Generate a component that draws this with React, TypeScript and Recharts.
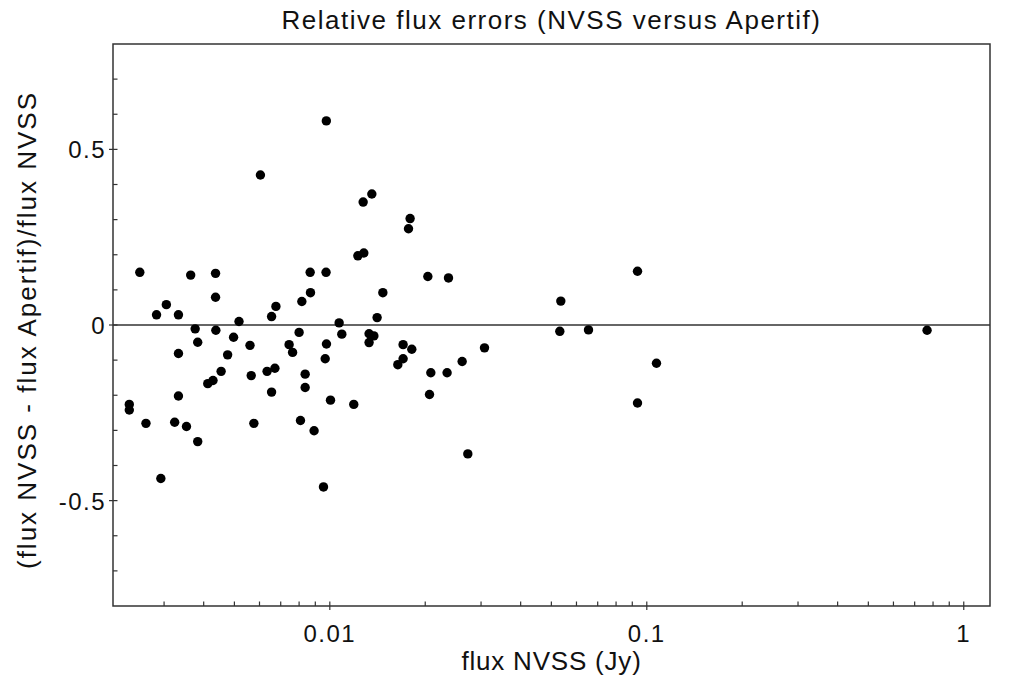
import { ReferenceArea, ReferenceLine, Scatter, ScatterChart, XAxis, YAxis } from "recharts";

// NVSS flux (Jy) and relative error
const fluxNvss = [
  0.002515, 0.00284, 0.00305, 0.00333, 0.00364, 0.00436, 0.00436, 0.00333, 0.00376, 0.00437,
  0.00517, 0.00383, 0.00497, 0.00476, 0.0056, 0.00454, 0.00428, 0.00412, 0.00565, 0.00333,
  0.00233, 0.00233, 0.00263, 0.00324, 0.00353, 0.00383, 0.00576, 0.00293, 0.00604, 0.00655,
  0.00676, 0.00634, 0.00671, 0.00655, 0.00744, 0.00763, 0.008, 0.00816, 0.00869, 0.00867,
  0.00973, 0.00836, 0.00836, 0.00808, 0.00892, 0.00976, 0.00967, 0.01005, 0.0107, 0.01091,
  0.0119, 0.00975, 0.01274, 0.01357, 0.01792, 0.01771, 0.01226, 0.0128, 0.02038, 0.02368,
  0.0147, 0.0141, 0.0133, 0.01377, 0.0133, 0.01703, 0.01814, 0.01703, 0.01639, 0.02083,
  0.02344, 0.02615, 0.03076, 0.02063, 0.02725, 0.00955, 0.05355, 0.05316, 0.06548, 0.09348,
  0.1073, 0.09348, 0.766,
];

const relError = [
  0.15, 0.029, 0.058, 0.029, 0.142, 0.147, 0.079, -0.081, -0.011, -0.015,
  0.01, -0.049, -0.035, -0.085, -0.058, -0.132, -0.158, -0.167, -0.144, -0.202,
  -0.226, -0.242, -0.28, -0.277, -0.289, -0.332, -0.28, -0.437, 0.427, 0.024,
  0.053, -0.132, -0.123, -0.191, -0.056, -0.078, -0.021, 0.067, 0.092, 0.15,
  0.15, -0.14, -0.178, -0.272, -0.301, -0.054, -0.096, -0.214, 0.006, -0.026,
  -0.226, 0.581, 0.35, 0.373, 0.303, 0.274, 0.197, 0.205, 0.138, 0.134,
  0.092, 0.021, -0.025, -0.031, -0.05, -0.056, -0.069, -0.096, -0.113, -0.136,
  -0.136, -0.104, -0.065, -0.198, -0.367, -0.461, 0.068, -0.018, -0.014, 0.153,
  -0.109, -0.222, -0.015,
];

const xMajorTicks = [0.01, 0.1, 1];
const xMinorTicks = [
  0.003, 0.004, 0.005, 0.006, 0.007, 0.008, 0.009,
  0.02, 0.03, 0.04, 0.05, 0.06, 0.07, 0.08, 0.09,
  0.2, 0.3, 0.4, 0.5, 0.6, 0.7, 0.8, 0.9,
];
const xTickLabels = ["0.01", "0.1", "1"];
const yMajorTicks = [-0.5, 0, 0.5];
const yMinorTicks = [-0.7, -0.6, -0.4, -0.3, -0.2, -0.1, 0.1, 0.2, 0.3, 0.4, 0.6, 0.7];
const yTickLabels = ["-0.5", "0", "0.5"];

const xDomain = [0.00207, 1.21];
const yDomain = [-0.8, 0.8];

const points = fluxNvss.map((flux, i) => ({ flux, err: relError[i] }));

const ink = "#333";
const font = "'Liberation Sans', Arial, sans-serif";

function XTick(props: any) {
  const { x, y, payload } = props;
  const idx = xMajorTicks.indexOf(payload.value);
  if (idx < 0) {
    return <line x1={x} x2={x} y1={y} y2={y - 4.5} stroke={ink} strokeWidth={1.2} />;
  }
  return (
    <g>
      <line x1={x} x2={x} y1={y - 4.5} y2={y + 4} stroke={ink} strokeWidth={1.2} />
      <text x={x} y={y + 36} textAnchor="middle" fontSize={24} fill="#111" fontFamily={font} letterSpacing={1.5}>
        {xTickLabels[idx]}
      </text>
    </g>
  );
}

function YTick(props: any) {
  const { x, y, payload } = props;
  const idx = yMajorTicks.indexOf(payload.value);
  if (idx < 0) {
    return <line x1={x} x2={x + 4.5} y1={y} y2={y} stroke={ink} strokeWidth={1.2} />;
  }
  return (
    <g>
      <line x1={x - 4} x2={x + 4.5} y1={y} y2={y} stroke={ink} strokeWidth={1.2} />
      <text x={x - 7} y={y + 9} textAnchor="end" fontSize={24} fill="#111" fontFamily={font} letterSpacing={1.5}>
        {yTickLabels[idx]}
      </text>
    </g>
  );
}

export default function App() {
  return (
    <div style={{ position: "absolute", left: 0, top: 0, width: 1024, height: 694, background: "#fff", fontFamily: font }}>
      <div style={{ position: "absolute", left: 113, width: 877, top: 5, textAlign: "center", fontSize: 26, color: "#111", letterSpacing: 1.5 }}>
        Relative flux errors (NVSS versus Apertif)
      </div>
      <ScatterChart width={1024} height={694} margin={{ top: 44, right: 34, bottom: 28, left: 13 }}>
        <XAxis
          dataKey="flux"
          type="number"
          scale="log"
          domain={xDomain}
          allowDataOverflow
          ticks={[...xMinorTicks, ...xMajorTicks].sort((a, b) => a - b)}
          interval={0}
          height={60}
          axisLine={false}
          tickLine={false}
          tickSize={0}
          tickMargin={0}
          tick={(p: any) => <XTick {...p} />}
        />
        <YAxis
          dataKey="err"
          type="number"
          domain={yDomain}
          allowDataOverflow
          ticks={[...yMinorTicks, ...yMajorTicks].sort((a, b) => a - b)}
          interval={0}
          width={100}
          axisLine={false}
          tickLine={false}
          tickSize={0}
          tickMargin={0}
          tick={(p: any) => <YTick {...p} />}
        />
        <ReferenceArea x1={xDomain[0]} x2={xDomain[1]} y1={yDomain[0]} y2={yDomain[1]} fill="none" stroke={ink} strokeWidth={1.5} fillOpacity={0} />
        <ReferenceLine y={0} stroke={ink} strokeWidth={1.5} />
        <Scatter
          data={points}
          isAnimationActive={false}
          shape={(p: any) => <circle cx={p.cx} cy={p.cy} r={4.7} fill="#000" />}
        />
      </ScatterChart>
      <div style={{ position: "absolute", left: 113, width: 877, top: 646, textAlign: "center", fontSize: 26, color: "#111", letterSpacing: 0.8 }}>
        flux NVSS (Jy)
      </div>
      <div
        style={{
          position: "absolute",
          left: 27,
          top: 330,
          transform: "translate(-50%, -50%) rotate(-90deg)",
          whiteSpace: "nowrap",
          fontSize: 26,
          color: "#111",
          letterSpacing: 2,
        }}
      >
        (flux NVSS - flux Apertif)/flux NVSS
      </div>
    </div>
  );
}
